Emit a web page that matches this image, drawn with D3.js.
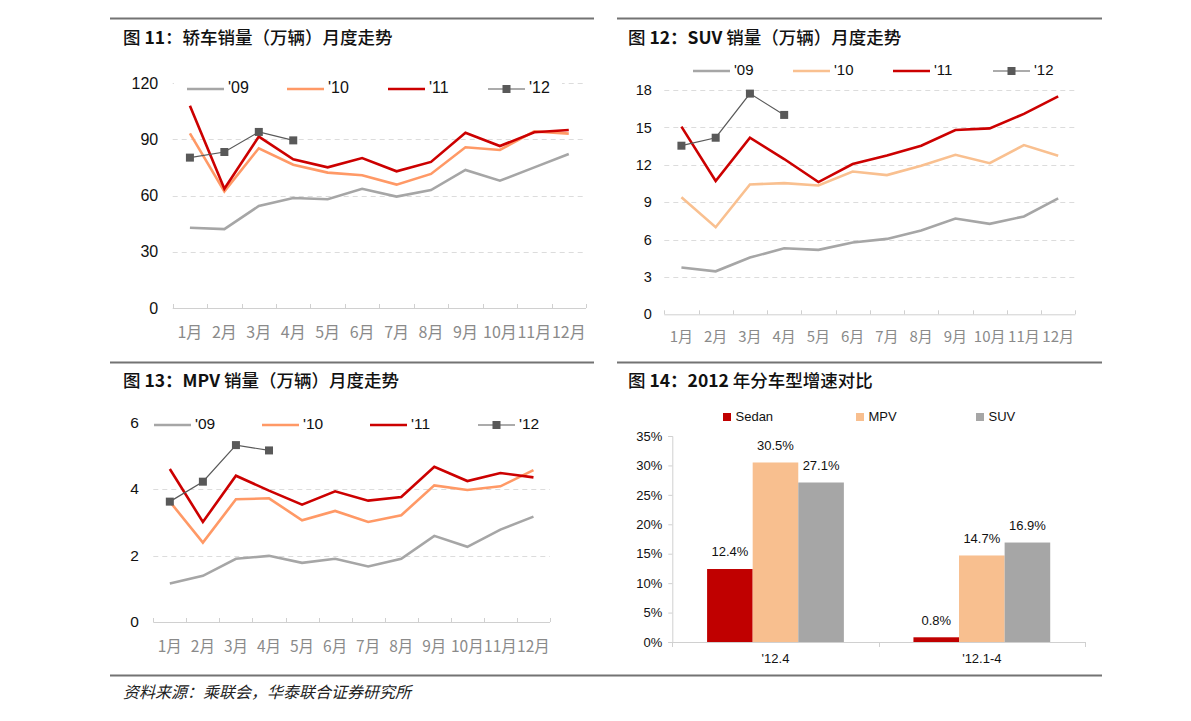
<!DOCTYPE html>
<html><head><meta charset="utf-8">
<script src="https://cdn.jsdelivr.net/npm/d3@7"></script>
<style>
body{margin:0;background:#fff;}
svg{display:block;}
text{font-family:"Liberation Sans",Arial,sans-serif;}
.cjk{font-family:"Noto Sans CJK SC","Liberation Sans",sans-serif;}
</style></head>
<body>
<svg id="c" width="1191" height="721"></svg>
<script>
// ---------- DATA ----------
const months = ['1月','2月','3月','4月','5月','6月','7月','8月','9月','10月','11月','12月'];
const yearNames = ["'09","'10","'11","'12"];

const sedan09 = [42.8,42.1,54.4,58.7,58.0,63.6,59.4,62.9,73.6,67.9,75.0,82.1];
const sedan10 = [93.1,62.2,85.2,76.4,72.2,70.8,65.8,71.5,85.7,84.3,94.2,93.0];
const sedan11 = [107.9,63.6,91.4,79.3,75.0,80.0,72.9,77.9,93.5,86.4,93.7,94.9];
const sedan12 = [80.2,83.2,93.9,89.4];
const sedanTicks = [0,30,60,90,120];

const suv09 = [3.75,3.45,4.55,5.30,5.17,5.76,6.05,6.72,7.69,7.26,7.85,9.30];
const suv10 = [9.40,6.99,10.42,10.53,10.34,11.46,11.17,11.92,12.80,12.13,13.58,12.72];
const suv11 = [15.06,10.70,14.17,12.46,10.61,12.06,12.75,13.53,14.79,14.92,16.08,17.49];
const suv12 = [13.53,14.17,17.71,16.00];
const suvTicks = [0,3,6,9,12,15,18];

const mpv09 = [1.16,1.39,1.90,1.99,1.78,1.90,1.67,1.90,2.59,2.26,2.78,3.17];
const mpv10 = [3.62,2.39,3.69,3.72,3.06,3.34,3.01,3.21,4.11,3.97,4.08,4.57];
const mpv11 = [4.60,3.01,4.40,3.95,3.53,3.93,3.65,3.76,4.67,4.24,4.48,4.35];
const mpv12 = [3.62,4.22,5.32,5.16];
const mpvTicks = [0,2,4,6];

const growthCats = ["'12.4","'12.1-4"];
const growthTypes = ['Sedan','MPV','SUV'];
const growthSedan = [12.4,0.8];
const growthMPV = [30.5,14.7];
const growthSUV = [27.1,16.9];
const growthTicks = [0,5,10,15,20,25,30,35];

const titles = [
  ['图 ','11','：轿车销量（万辆）月度走势'],
  ['图 ','12：SUV',' 销量（万辆）月度走势'],
  ['图 ','13：MPV',' 销量（万辆）月度走势'],
  ['图 ','14：2012',' 年分车型增速对比']
];
const sourceText = '资料来源：乘联会，华泰联合证券研究所';

// ---------- DRAW ----------
const svg = d3.select('#c');

// frame lines
const frame = svg.append('g').attr('stroke','#737373').attr('stroke-width',2);
frame.append('line').attr('x1',110).attr('x2',594).attr('y1',18.5).attr('y2',18.5);
frame.append('line').attr('x1',617).attr('x2',1102).attr('y1',18.5).attr('y2',18.5);
frame.append('line').attr('x1',110).attr('x2',594).attr('y1',362.5).attr('y2',362.5);
frame.append('line').attr('x1',617).attr('x2',1102).attr('y1',362.5).attr('y2',362.5);
frame.append('line').attr('x1',110).attr('x2',1102).attr('y1',675.5).attr('y2',675.5);

// titles
const titlePos = [[123,44],[628,44],[123,387],[628,387]];
titles.forEach((t,i)=>{
  const tx = svg.append('text').attr('class','cjk').attr('x',titlePos[i][0]).attr('y',titlePos[i][1])
    .attr('font-size',17.5).attr('fill','#111');
  tx.append('tspan').attr('font-weight',500).text(t[0]);
  tx.append('tspan').attr('font-weight',700).text(t[1]);
  tx.append('tspan').attr('font-weight',500).text(t[2]);
});

svg.append('text').attr('class','cjk').attr('x',123).attr('y',698).attr('font-size',16)
  .attr('font-style','italic').attr('fill','#222').text(sourceText);

function lineChart(cfg){
  const g = svg.append('g');
  const x = d3.scaleBand().domain(months).range([cfg.x0,cfg.x1]);
  const y = d3.scaleLinear().domain([0,d3.max(cfg.ticks)]).range([cfg.yb,cfg.yt]);
  const bw = x.bandwidth();
  // grid
  g.append('g').selectAll('line').data(cfg.ticks.filter(v=>v>0)).join('line')
    .attr('x1',cfg.x0).attr('x2',cfg.x1).attr('y1',d=>Math.round(y(d))+0.5).attr('y2',d=>Math.round(y(d))+0.5)
    .attr('stroke','#dcdcdc').attr('stroke-dasharray','5,4');
  // y labels
  const ya = g.append('g').attr('transform',`translate(${cfg.x0},0)`)
    .call(d3.axisLeft(y).tickValues(cfg.ticks).tickSize(0).tickPadding(cfg.pad).tickFormat(d3.format('d')));
  ya.select('.domain').remove();
  ya.selectAll('text').attr('font-size',cfg.fs).attr('fill','#111').attr('font-family','Liberation Sans, Arial, sans-serif');
  // x axis
  g.append('line').attr('x1',cfg.x0).attr('x2',cfg.x1).attr('y1',cfg.yb+0.5).attr('y2',cfg.yb+0.5).attr('stroke','#d0d0d0');
  const bounds = months.map(m=>x(m)).concat([cfg.x1]);
  g.append('g').selectAll('line').data(bounds).join('line')
    .attr('x1',d=>Math.round(d)+0.5).attr('x2',d=>Math.round(d)+0.5).attr('y1',cfg.yb-4).attr('y2',cfg.yb)
    .attr('stroke','#d0d0d0');
  g.append('g').selectAll('text').data(months).join('text')
    .attr('class','cjk')
    .attr('x',d=>x(d)+bw/2).attr('y',cfg.ly).attr('text-anchor','middle').attr('dominant-baseline','middle')
    .attr('font-size',cfg.mfs).attr('fill','#8a8a8a').text(d=>d);
  // lines
  const line = d3.line().x((d,i)=>x(months[i])+bw/2).y(d=>y(d));
  cfg.series.forEach((s,k)=>{
    g.append('path').datum(s).attr('d',line).attr('fill','none')
      .attr('stroke',cfg.colors[k]).attr('stroke-width',k===3?1.2:2.6).attr('stroke-linejoin','miter');
    if(k===3){
      g.append('g').selectAll('rect').data(s).join('rect')
        .attr('x',(d,i)=>x(months[i])+bw/2-4).attr('y',d=>y(d)-4).attr('width',8).attr('height',8)
        .attr('fill',cfg.colors[k]);
    }
  });
  // legend
  const lg = g.append('g');
  lg.append('rect').attr('x',cfg.legBox[0]).attr('y',cfg.legY-12).attr('width',cfg.legBox[1]-cfg.legBox[0]).attr('height',24).attr('fill','#fff');
  yearNames.forEach((n,k)=>{
    const lx = cfg.legX[k];
    lg.append('line').attr('x1',lx).attr('x2',lx+37).attr('y1',cfg.legY).attr('y2',cfg.legY)
      .attr('stroke',cfg.colors[k]).attr('stroke-width',k===3?1.2:2.6);
    if(k===3) lg.append('rect').attr('x',lx+14.5).attr('y',cfg.legY-4).attr('width',8).attr('height',8).attr('fill',cfg.colors[k]);
    lg.append('text').attr('x',lx+41).attr('y',cfg.legY).attr('dominant-baseline','middle')
      .attr('font-size',cfg.lfs).attr('fill','#111').text(n);
  });
}

lineChart({x0:172.7,x1:586,yb:308,yt:83,ticks:sedanTicks,pad:14.5,fs:16,mfs:16,ly:334,
  series:[sedan09,sedan10,sedan11,sedan12],colors:['#a6a6a6','#ff9966','#cc0000','#595959'],
  legY:89,legX:[187,287,388,488],legBox:[174,562],lfs:16});

lineChart({x0:664.3,x1:1075.3,yb:314.3,yt:90,ticks:suvTicks,pad:12.5,fs:14.5,mfs:15,ly:338,
  series:[suv09,suv10,suv11,suv12],colors:['#a6a6a6','#f9c090','#cc0000','#595959'],
  legY:71,legX:[693,793,893,993],legBox:[690,1060],lfs:15});

lineChart({x0:153.3,x1:550,yb:622,yt:422.5,ticks:mpvTicks,pad:14.5,fs:15.5,mfs:15.5,ly:648,
  series:[mpv09,mpv10,mpv11,mpv12],colors:['#a6a6a6','#ff9966','#cc0000','#595959'],
  legY:425,legX:[154,262,370,478],legBox:[150,552],lfs:15.5});

// bar chart
(function(){
  const X0=672.3, X1=1085, YB=642, YT=436;
  const g = svg.append('g');
  const x = d3.scaleBand().domain(growthCats).range([X0,X1]);
  const xi = d3.scaleBand().domain(growthTypes).range([0,x.bandwidth()]).paddingInner(0).paddingOuter(0.763);
  const y = d3.scaleLinear().domain([0,35]).range([YB,YT]);
  const colors = {Sedan:'#c00000',MPV:'#f8bf8f',SUV:'#a6a6a6'};
  const vals = {Sedan:growthSedan,MPV:growthMPV,SUV:growthSUV};
  // y axis
  const ya = g.append('g').attr('transform',`translate(${X0},0)`)
    .call(d3.axisLeft(y).tickValues(growthTicks).tickSize(4).tickPadding(6).tickFormat(d=>d+'%'));
  ya.select('.domain').attr('stroke','#d0d0d0');
  ya.selectAll('.tick line').attr('stroke','#d0d0d0');
  ya.selectAll('text').attr('font-size',13).attr('fill','#111').attr('font-family','Liberation Sans, Arial, sans-serif');
  // x axis
  const xa = g.append('g').attr('transform',`translate(0,${YB})`)
    .call(d3.axisBottom(x).tickSize(0).tickPadding(12));
  xa.select('.domain').attr('stroke','#d0d0d0');
  xa.selectAll('text').attr('font-size',13).attr('fill','#111').attr('font-family','Liberation Sans, Arial, sans-serif');
  g.append('g').selectAll('line').data([X0, x(growthCats[1]), X1]).join('line')
    .attr('x1',d=>Math.round(d)+0.5).attr('x2',d=>Math.round(d)+0.5).attr('y1',YB).attr('y2',YB+5).attr('stroke','#d0d0d0');
  // bars
  growthCats.forEach((c,ci)=>{
    growthTypes.forEach(t=>{
      const v = vals[t][ci];
      const bx = x(c)+xi(t);
      g.append('rect').attr('x',bx).attr('y',y(v)).attr('width',xi.bandwidth()).attr('height',YB-y(v)).attr('fill',colors[t]);
      g.append('text').attr('x',bx+xi.bandwidth()/2).attr('y',y(v)-16).attr('text-anchor','middle')
        .attr('dominant-baseline','middle').attr('font-size',13).attr('fill','#111').text(v.toFixed(1)+'%');
    });
  });
  // legend
  const lx = [723,856,976];
  growthTypes.forEach((t,k)=>{
    g.append('rect').attr('x',lx[k]).attr('y',413).attr('width',8).attr('height',8).attr('fill',colors[t]);
    g.append('text').attr('x',lx[k]+12.5).attr('y',417.5).attr('dominant-baseline','middle')
      .attr('font-size',13).attr('fill','#111').text(t);
  });
})();
</script>
</body></html>
